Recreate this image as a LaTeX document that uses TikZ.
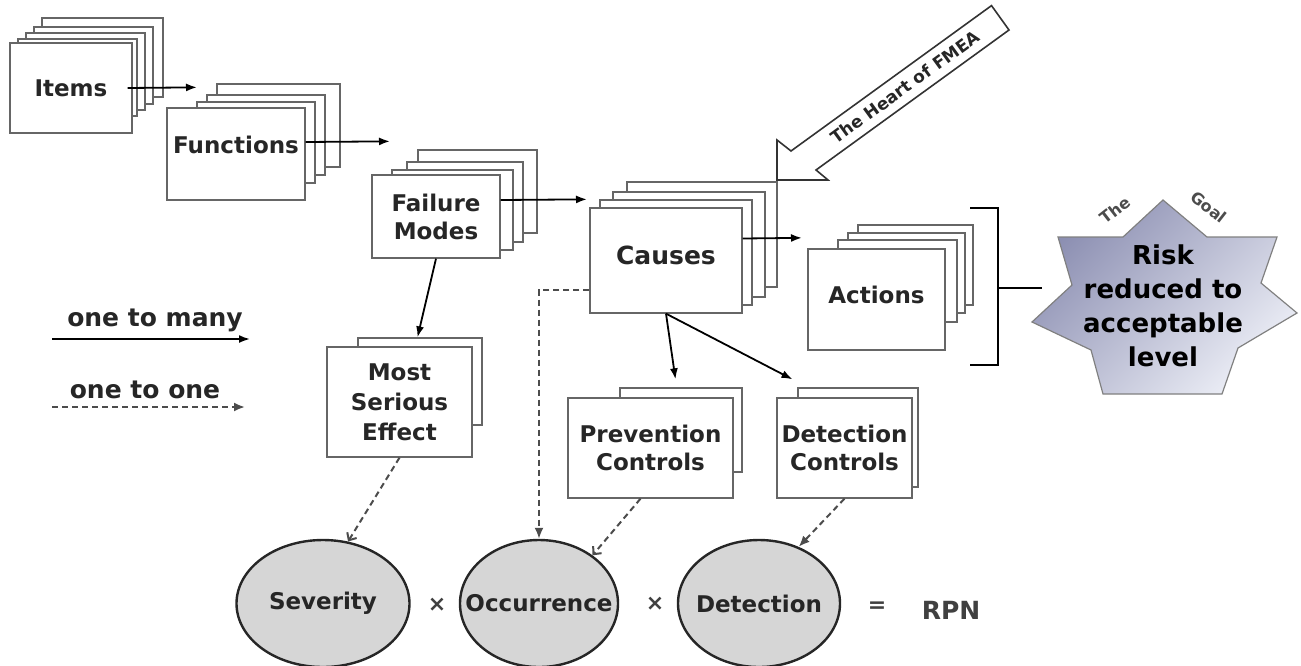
\documentclass[tikz,border=0pt]{standalone}
\usepackage{fontspec}
\setmainfont{DejaVu Sans}
\usetikzlibrary{arrows.meta,shapes.geometric,calc}
\definecolor{starA}{RGB}{140,143,178}
\definecolor{starB}{RGB}{236,238,246}
\newcommand\bxf{\bfseries\fontsize{23}{28}\selectfont}
\begin{document}
\begin{tikzpicture}[x=1pt,y=-1pt,
  layer/.style={draw=black!60,fill=white,line width=1.3pt},
  box/.style={draw=black!60,fill=white,line width=1.3pt,align=center,inner sep=0pt,font=\bxf,text=black!85},
  flow/.style={draw=black,line width=1.8pt,-{Latex[length=11pt,width=8pt]}},
  dflow/.style={draw=black!70,line width=2pt,dash pattern=on 6pt off 4pt,-{Latex[length=11pt,width=9pt]}},
  dbarb/.style={draw=black!70,line width=2pt,dash pattern=on 6pt off 4pt,-{Straight Barb[length=6pt,width=11pt]}},
  factor/.style={ellipse,draw=black!85,line width=2.4pt,fill=black!16,inner sep=0pt,minimum height=127pt,font=\bfseries\fontsize{23}{26}\selectfont,text=black!85},
  optxt/.style={font=\bfseries\fontsize{22}{26}\selectfont,text=black!75},
  legendtxt/.style={font=\bfseries\fontsize{25}{28}\selectfont,text=black!85},
  goaltxt/.style={font=\bfseries\fontsize{16}{18}\selectfont,text=black!70},
]
\useasboundingbox (0,0) rectangle (1301,665);

% ---- Items
\foreach \a/\b/\c/\d in {42/18/163/97,34/27/153/104,26/33/145/110,18/39/137/116}
  \draw[layer] (\a,\b) rectangle (\c,\d);
\node[box,minimum width=122pt,minimum height=90pt] (items) at (71,88) {Items};

% ---- Functions
\foreach \a/\b/\c/\d in {217/84/340/167,207/95/325/175,197/102/315/183}
  \draw[layer] (\a,\b) rectangle (\c,\d);
\node[box,minimum width=138pt,minimum height=92pt,text depth=18pt] (func) at (236,154) {Functions};

% ---- Failure Modes
\foreach \a/\b/\c/\d in {418/150/537/233,407/162/523/242,392/170/513/250}
  \draw[layer] (\a,\b) rectangle (\c,\d);
\node[box,minimum width=128pt,minimum height=83pt] (fm) at (436,216.5) {Failure\\Modes};

% ---- Causes
\foreach \a/\b/\c/\d in {627/182/777/287,613/192/765/297,600/200/752/305}
  \draw[layer] (\a,\b) rectangle (\c,\d);
\node[box,minimum width=152pt,minimum height=105pt,text depth=10pt,font=\bfseries\fontsize{25}{30}\selectfont] (causes) at (666,260.5) {Causes};

% ---- Actions
\foreach \a/\b/\c/\d in {858/225/973/305,848/233/965/313,838/240/957/322}
  \draw[layer] (\a,\b) rectangle (\c,\d);
\node[box,minimum width=137pt,minimum height=101pt,text depth=9pt] (actions) at (876.5,299.5) {Actions};

% ---- Most Serious Effect
\draw[layer] (358,338) rectangle (482,425);
\node[box,minimum width=145pt,minimum height=110pt,font=\bfseries\fontsize{23}{30}\selectfont] (mse) at (399.5,402) {Most\\Serious\\Effect};

% ---- Prevention / Detection controls
\draw[layer] (620,388) rectangle (742,472);
\node[box,minimum width=165pt,minimum height=100pt] (prev) at (650.5,448) {Prevention\\Controls};
\draw[layer] (798,388) rectangle (918,487);
\node[box,minimum width=135pt,minimum height=100pt] (detc) at (844.5,448) {Detection\\Controls};

% ---- Bottom factors
\node[factor,minimum width=173pt] (sev) at (323,603.5) {\makebox[0pt]{Severity}};
\node[factor,minimum width=158pt] (occ) at (539,603.5) {\makebox[0pt]{Occurrence}};
\node[factor,minimum width=162pt] (dete) at (759,603.5) {\makebox[0pt]{Detection}};
\node[optxt] (x1) at (437,605) {×};
\node[optxt] (x2) at (655,604) {×};
\node[optxt] (eq) at (877,607) {=};
\node[font=\bfseries\fontsize{25}{28}\selectfont,text=black!75] (rpn) at (951,610) {RPN};

% ---- Heart of FMEA arrow
\draw[draw=black!80,line width=1.6pt,fill=white,line join=miter]
  (777,180) -- (777,140) -- (791,151) -- (991.5,5.6) -- (1009,30) -- (816,170) -- (828,180) -- cycle;
\node[rotate=36,font=\bfseries\fontsize{17}{19}\selectfont,text=black!85] (heart) at (905,87) {The Heart of FMEA};

% ---- Bracket and goal star
\draw[line width=2.2pt] (970,208) -- (998,208) -- (998,365) -- (970,365);
\shadedraw[draw=black!50,line width=1.2pt,top color=starA,bottom color=starB,shading angle=45]
  (1163,200) -- (1207,237) -- (1277,237) -- (1261,283) -- (1297,313) -- (1238,348) -- (1222,394)
  -- (1103,394) -- (1091,350) -- (1032,322) -- (1072,285) -- (1058,237) -- (1123,237) -- cycle;
\node[align=center,font=\bfseries\fontsize{26}{34}\selectfont,text=black] (goal) at (1163,306) {Risk\\reduced to\\acceptable\\level};
\node[goaltxt,rotate=38] (the) at (1115,210) {The};
\node[goaltxt,rotate=-38] (goalw) at (1209,207) {Goal};
\coordinate (brk) at (998,288);
\coordinate (starL) at (1042,288);
\draw[line width=2.2pt] (brk) -- (starL);

% ---- Legend
\node[legendtxt] (l1) at (155,320) {one to many};
\coordinate (l1a) at (52,339);
\coordinate (l1b) at (250,339);
\draw[flow] (l1a) -- (l1b);
\node[legendtxt] (l2) at (145,390) {one to one};
\coordinate (l2a) at (52,407);
\coordinate (l2b) at (245,407);
\draw[dflow] (l2a) -- (l2b);

% ---- Connectors
\draw[flow] ([xshift=-5pt]items.east) -- ([shift={(-39pt,20pt)}]func.north);
\draw[flow] ([yshift=12pt]func.east) -- ([shift={(-46pt,33pt)}]fm.north);
\draw[flow] ([yshift=16.5pt]fm.east) -- ([shift={(-79pt,8pt)}]causes.north);
\draw[flow] ([yshift=22pt]causes.east) -- ([shift={(-74.5pt,10.5pt)}]actions.north);
\draw[flow] (fm.south) -- ([shift={(18pt,9pt)}]mse.north);
\draw[flow] (causes.south) -- ([shift={(25pt,18pt)}]prev.north);
\draw[flow] (causes.south) -- ([shift={(-52pt,18pt)}]detc.north);
\draw[dbarb] (mse.south) -- (sev.68);
\draw[dflow] ([yshift=-29.5pt]causes.west) -| (occ.north);
\draw[dbarb] ([xshift=-10pt]prev.south) -- (occ.42);
\draw[dflow] (detc.south) -- (dete.55);
\end{tikzpicture}
\end{document}
